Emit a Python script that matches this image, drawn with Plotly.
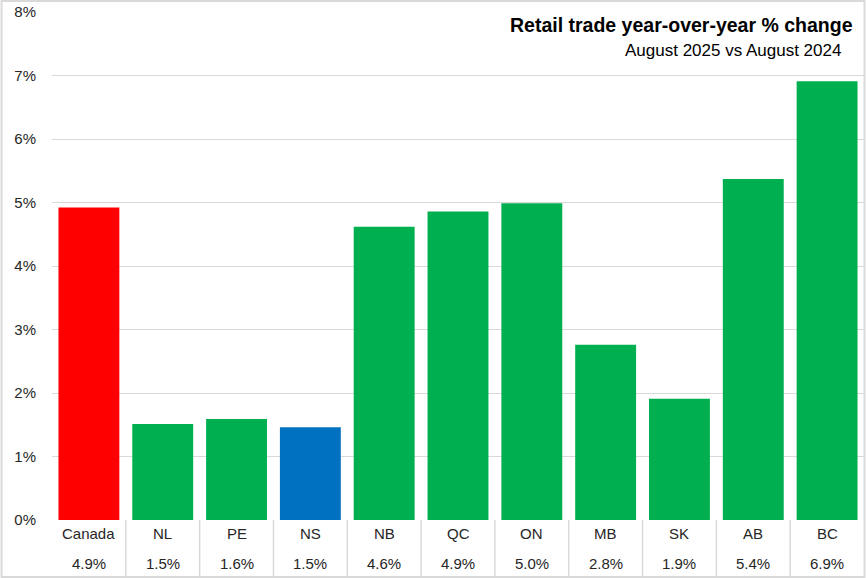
import plotly.graph_objects as go

categories = ["Canada", "NL", "PE", "NS", "NB", "QC", "ON", "MB", "SK", "AB", "BC"]
values = [4.92, 1.51, 1.59, 1.46, 4.62, 4.86, 4.99, 2.76, 1.91, 5.37, 6.91]
bar_colors = ["#FF0000", "#00B050", "#00B050", "#0070C0", "#00B050", "#00B050",
              "#00B050", "#00B050", "#00B050", "#00B050", "#00B050"]
y_ticks = [0, 1, 2, 3, 4, 5, 6, 7, 8]
y_tick_labels = [f"{t}%" for t in y_ticks]
title_text = "Retail trade year-over-year % change"
subtitle_text = "August 2025 vs August 2024"

W, H = 866, 578
ML, MR, MT, MB = 51.5, 1.5, 12, 58
pw = W - ML - MR
ph = H - MT - MB

FONT = "Liberation Sans, Arial, sans-serif"
GRID = "#d9d9d9"


def py(ypix):
    return (H - MB - ypix) / ph


def px(xpix):
    return (xpix - ML) / pw


fig = go.Figure()
fig.add_trace(go.Bar(
    x=list(range(len(categories))), y=values,
    marker=dict(color=bar_colors, line=dict(width=0)),
    hoverinfo="skip",
))

annotations = []
n = len(categories)
for i, (c, v) in enumerate(zip(categories, values)):
    annotations.append(dict(x=i, y=0, xref="x", yref="paper", text=c,
                            showarrow=False, yanchor="middle", yshift=-13,
                            font=dict(size=15, color="#262626", family=FONT)))
    annotations.append(dict(x=i, y=0, xref="x", yref="paper", text=f"{v:.1f}%",
                            showarrow=False, yanchor="middle", yshift=-43,
                            font=dict(size=15, color="#262626", family=FONT)))

annotations.append(dict(x=px(855), y=py(25),
                        xref="paper", yref="paper", text=f"<b>{title_text}</b>",
                        showarrow=False, xanchor="right", yanchor="middle",
                        font=dict(size=19.5, color="#000000", family=FONT)))
annotations.append(dict(x=px(843), y=py(51),
                        xref="paper", yref="paper", text=subtitle_text,
                        showarrow=False, xanchor="right", yanchor="middle",
                        font=dict(size=17, color="#000000", family=FONT)))

shapes = []
bottom_paper = py(H - 2)
for i in range(n - 1):
    shapes.append(dict(type="line", xref="x", yref="paper", x0=i + 0.5, x1=i + 0.5,
                       y0=0, y1=bottom_paper, line=dict(color=GRID, width=1.5)))
# chart border
shapes.append(dict(type="rect", xref="paper", yref="paper",
                   x0=px(1), x1=px(W - 1), y0=py(H - 1), y1=py(1),
                   line=dict(color=GRID, width=2), fillcolor="rgba(0,0,0,0)"))

fig.update_layout(
    width=W, height=H,
    margin=dict(l=ML, r=MR, t=MT, b=MB, pad=0),
    paper_bgcolor="white", plot_bgcolor="white",
    showlegend=False,
    bargap=0.175,
    xaxis=dict(range=[-0.5, n - 0.5], showticklabels=False, showgrid=False,
               zeroline=False, showline=False, ticks=""),
    yaxis=dict(range=[0, 8], tickvals=y_ticks, ticktext=y_tick_labels,
               showgrid=True, gridcolor=GRID, gridwidth=1.3,
               zeroline=False, showline=False, ticks="",
               ticklabelstandoff=15,
               tickfont=dict(size=15, color="#262626", family=FONT)),
    annotations=annotations,
    shapes=shapes,
    font=dict(family=FONT),
)

fig.write_html("out.html", config={"displayModeBar": False},
               post_script="document.body.style.margin='0';document.body.style.overflow='hidden';")
